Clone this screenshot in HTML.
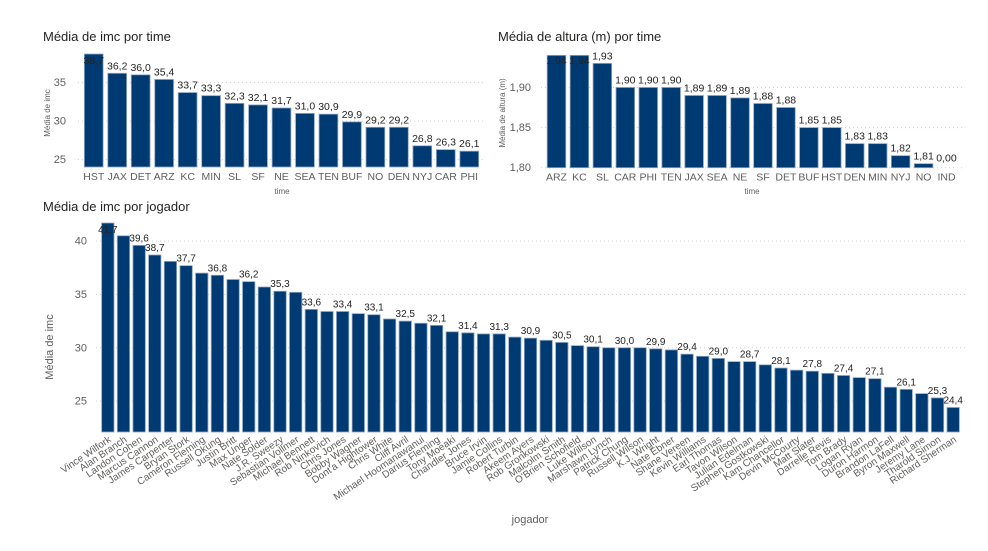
<!DOCTYPE html>
<html><head><meta charset="utf-8">
<style>
html,body{margin:0;padding:0;background:#fff;}
body{width:988px;height:551px;overflow:hidden;font-family:"Liberation Sans",sans-serif;}
svg{display:block}
</style></head>
<body>
<svg id="chart" width="988" height="551" xmlns="http://www.w3.org/2000/svg" font-family="Liberation Sans, sans-serif"></svg>
<script>
const teams1 = ["HST","JAX","DET","ARZ","KC","MIN","SL","SF","NE","SEA","TEN","BUF","NO","DEN","NYJ","CAR","PHI"];
const imc1 = [38.7,36.2,36.0,35.4,33.7,33.3,32.3,32.1,31.7,31.0,30.9,29.9,29.2,29.2,26.8,26.3,26.1];
const ticks1 = [25,30,35];

const teams2 = ["ARZ","KC","SL","CAR","PHI","TEN","JAX","SEA","NE","SF","DET","BUF","HST","DEN","MIN","NYJ","NO","IND"];
const height2 = [1.94,1.94,1.93,1.90,1.90,1.90,1.89,1.89,1.887,1.88,1.875,1.85,1.85,1.83,1.83,1.815,1.805,0];
const heightLabels = ["1,94","1,94","1,93","1,90","1,90","1,90","1,89","1,89","1,89","1,88","1,88","1,85","1,85","1,83","1,83","1,82","1,81","0,00"];
const ticks2 = [1.80,1.85,1.90];

const players = ["Vince Wilfork","Alan Branch","Landon Cohen","Marcus Cannon","James Carpenter","Bryan Stork","Cameron Fleming","Russell Okung","Justin Britt","Max Unger","Nate Solder","J.R. Sweezy","Sebastian Vollmer","Michael Bennett","Rob Ninkovich","Chris Jones","Bobby Wagner","Dont'a Hightower","Chris White","Cliff Avril","Michael Hoomanawanui","Darius Fleming","Tony Moeaki","Chandler Jones","Bruce Irvin","Jamie Collins","Robert Turbin","Akeem Ayers","Rob Gronkowski","Malcolm Smith","O'Brien Schofield","Luke Willson","Marshawn Lynch","Patrick Chung","Russell Wilson","K.J. Wright","Nate Ebner","Shane Vereen","Kevin Williams","Earl Thomas","Tavon Wilson","Julian Edelman","Stephen Gostkowski","Kam Chancellor","Devin McCourty","Matt Slater","Darrelle Revis","Tom Brady","Logan Ryan","Duron Harmon","Brandon LaFell","Byron Maxwell","Jeremy Lane","Tharold Simon","Richard Sherman"];
const imc3 = [41.7,40.5,39.6,38.7,38.1,37.7,37.0,36.8,36.4,36.2,35.7,35.3,35.2,33.6,33.4,33.4,33.2,33.1,32.7,32.5,32.3,32.1,31.5,31.4,31.3,31.3,31.0,30.9,30.7,30.5,30.2,30.1,30.0,30.0,30.0,29.9,29.8,29.4,29.2,29.0,28.7,28.7,28.4,28.1,27.9,27.8,27.6,27.4,27.2,27.1,26.3,26.1,25.7,25.3,24.4];
const ticks3 = [25,30,35,40];
const labelIdx1 = [1,3,4,6,8,10,12,14,16,18,20,22,24,26,28,30,32,34,36,38,40,42,44,46,48,50,52,54,55];

const NS = "http://www.w3.org/2000/svg";
const svg = document.getElementById("chart");
function mk(tag, attrs, parent, text){
  const e = document.createElementNS(NS, tag);
  for (const k in attrs) e.setAttribute(k, attrs[k]);
  if (text !== undefined) e.textContent = text;
  (parent||svg).appendChild(e);
  return e;
}
function fmt(v, d){ return v.toFixed(d).replace(".", ","); }

const BAR = "#003a73", EDGE = "#8fa6c4", TXT = "#252423", AX = "#605e5c";

function drawChart(o){
  const g = mk("g", {});
  
  
  const t = mk("text", {x:o.titleX, y:o.titleY, "font-size":13, fill:TXT}, g, o.title);
  
  
  const y = v => o.bottom - (Math.max(v,o.ymin) - o.ymin) / (o.ymax - o.ymin) * (o.bottom - o.top);
  o.ticks.forEach(tv => {
    const yy = y(tv);
    const gl = mk("line", {x1:o.left-4, x2:o.gridRight, y1:yy, y2:yy, stroke:"#d0d0d0", "stroke-dasharray":"1,3"}, g);
    
    
    const tl = mk("text", {x:o.tickX, y:yy+3.5, "font-size":o.tickFs, fill:AX, "text-anchor":"end"}, g, fmt(tv, o.tickDec));
    
    
  });
  const n = o.cats.length;
  const step = (o.right - o.left) / n;
  const bw = step * o.bwRatio;
  o.vals.forEach((v, i) => {
    const x = o.left + i*step + (step - bw)/2;
    const top = Math.max(y(Math.min(v, o.ymax)), o.top);
    if (v > o.ymin) {
      const r = mk("rect", {x:x, y:top, width:bw, height:o.bottom-top, fill:BAR, stroke:EDGE, "stroke-width":0.8}, g);
      
      
    }
    const showLabel = o.labelIdx ? o.labelIdx.indexOf(i+1) >= 0 : true;
    if (showLabel) {
      let ly = top - 4;
      if (v >= o.ymax - 0.001 || top <= o.top + 2) ly = o.top + 10;
      if (v <= o.ymin) ly = o.bottom - 6;
      const lbl = mk("text", {x:x+bw/2, y:ly, "font-size":o.valFs, fill:TXT, "text-anchor":"middle"}, g, o.labels ? o.labels[i] : fmt(v,1));
      
      
    }
    let cl;
    if (o.rotate) {
      cl = mk("text", {"font-size":10, fill:AX, "text-anchor":"end", transform:"translate(" + (x+bw/2+4) + "," + (o.bottom+9) + ") rotate(-34)"}, g, o.cats[i]);
    } else {
      cl = mk("text", {x:x+bw/2, y:o.bottom+13, "font-size":10.5, fill:AX, "text-anchor":"middle"}, g, o.cats[i]);
    }
    
    
  });
  const xt = mk("text", {x:o.xTitleX, y:o.xTitleY, "font-size":o.axFs, fill:AX, "text-anchor":"middle"}, g, o.xTitle);
  
  
  const yt = mk("text", {"font-size":o.axFs, fill:AX, "text-anchor":"middle", transform:"translate(" + o.yTitleX + "," + o.yTitleY + ") rotate(-90)"}, g, o.yTitle);
  
  
}

drawChart({name:"imc-by-team-chart", title:"Média de imc por time", titleX:43, titleY:41,
  cats:teams1, vals:imc1, ticks:ticks1, tickDec:0, ymin:24.05, ymax:38.7, top:54, bottom:167,
  left:82, right:481, gridRight:486, bwRatio:0.8, tickX:66, tickFs:11, valFs:10.5,
  xTitle:"time", xTitleX:282, xTitleY:194, yTitle:"Média de imc", yTitleX:50, yTitleY:113, axFs:8});

drawChart({name:"height-by-team-chart", title:"Média de altura (m) por time", titleX:498, titleY:41,
  cats:teams2, vals:height2, labels:heightLabels, ticks:ticks2, tickDec:2, ymin:1.80, ymax:1.9417, top:54, bottom:167.7,
  left:545, right:958, gridRight:965, bwRatio:0.81, tickX:531, tickFs:11, valFs:10.5,
  xTitle:"time", xTitleX:752, xTitleY:194, yTitle:"Média de altura (m)", yTitleX:505, yTitleY:113, axFs:8});

drawChart({name:"imc-by-player-chart", title:"Média de imc por jogador", titleX:43, titleY:211,
  cats:players, vals:imc3, ticks:ticks3, tickDec:0, labelIdx:labelIdx1, ymin:22.1, ymax:41.7, top:223, bottom:432,
  left:100, right:961, gridRight:966, bwRatio:0.79, tickX:87, tickFs:11, valFs:10, rotate:true,
  xTitle:"jogador", xTitleX:530, xTitleY:523, yTitle:"Média de imc", yTitleX:53, yTitleY:347, axFs:11});
</script>
</body></html>
